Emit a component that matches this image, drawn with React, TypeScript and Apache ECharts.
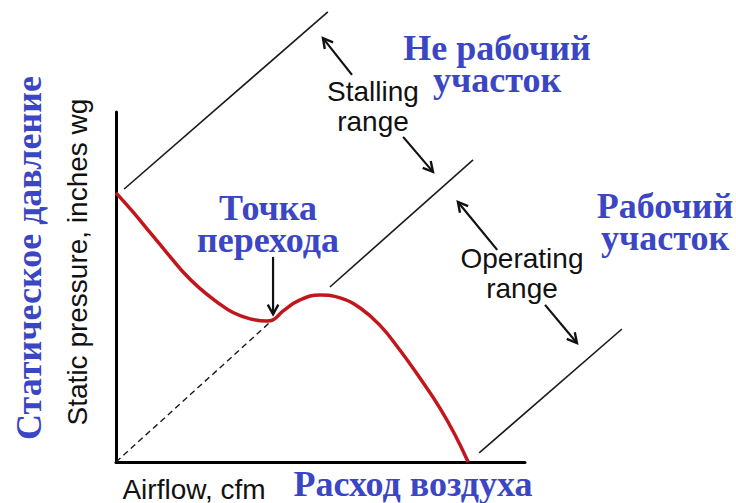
import React, { useEffect, useRef } from "react";
import * as echarts from "echarts";

// Axis ranges (arbitrary units, no tick labels in the original)
const AIRFLOW_MIN = 0;
const AIRFLOW_MAX = 100;
const PRESSURE_MIN = 0;
const PRESSURE_MAX = 100;

// Fan curve: airflow vs static pressure
const curveAirflow = [0, 4.2, 8.3, 12.5, 16.4, 20.5, 24.7, 28.6, 32.8, 36.9, 38.4, 40.8, 45.0, 49.9, 54.8, 59.7, 64.5, 69.4, 74.3, 79.2, 82.9, 86.1];
const curvePressure = [76.9, 71.4, 65.6, 59.7, 54.3, 49.6, 45.7, 42.7, 40.9, 40.3, 40.6, 43.1, 46.3, 47.7, 46.9, 44.0, 39.1, 32.0, 24.0, 15.4, 7.7, 0];

// Dashed system line from origin to transition point
const dashedAirflow = [0, 38.3];
const dashedPressure = [0, 40.6];

// Range boundary lines: [startAirflow, startPressure, endAirflow, endPressure]
const boundaries = [
  [2.0, 78.0, 51.8, 128.6],
  [52.3, 50.0, 87.3, 86.3],
  [88.8, 2.6, 123.7, 38.0],
];

// Annotation arrows: [tailAirflow, tailPressure, tipAirflow, tipPressure]
const arrows = [
  [57.7, 110.6, 50.6, 121.1],
  [70.2, 92.9, 77.5, 82.9],
  [93.2, 60.6, 83.6, 74.3],
  [104.9, 44.9, 112.7, 34.0],
  [38.4, 58.6, 38.4, 42.2],
];

const BLUE = "#3a46c4";
const SANS = '"Liberation Sans", Arial, sans-serif';
const SERIF = '"Liberation Serif", "Times New Roman", serif';

export default function App() {
  const ref = useRef<HTMLDivElement>(null);

  useEffect(() => {
    if (!ref.current) return;
    const chart = echarts.init(ref.current, null, { renderer: "svg" });

    const blueText = (text: string, x: number, y: number, rotation = 0) => ({
      type: "text",
      x,
      y,
      rotation,
      style: {
        text,
        font: `bold 36px ${SERIF}`,
        fill: BLUE,
        align: "center",
        verticalAlign: "middle",
        lineHeight: 32,
      },
    });
    const blackText = (text: string, x: number, y: number, rotation = 0) => ({
      type: "text",
      x,
      y,
      rotation,
      style: {
        text,
        font: `28px ${SANS}`,
        fill: "#111",
        align: "center",
        verticalAlign: "middle",
        lineHeight: 30,
      },
    });

    chart.setOption({
      animation: false,
      backgroundColor: "#fff",
      grid: { left: 116, top: 112, width: 409, height: 350 },
      xAxis: {
        type: "value",
        min: AIRFLOW_MIN,
        max: AIRFLOW_MAX,
        axisLine: { show: true, onZero: false, lineStyle: { color: "#000", width: 3 } },
        axisTick: { show: false },
        axisLabel: { show: false },
        splitLine: { show: false },
      },
      yAxis: {
        type: "value",
        min: PRESSURE_MIN,
        max: PRESSURE_MAX,
        axisLine: { show: true, onZero: false, lineStyle: { color: "#000", width: 3 } },
        axisTick: { show: false },
        axisLabel: { show: false },
        splitLine: { show: false },
      },
      series: [
        {
          type: "line",
          data: dashedAirflow.map((x, i) => [x, dashedPressure[i]]),
          symbol: "none",
          silent: true,
          lineStyle: { color: "#1a1a1a", width: 1.4, type: [6, 4] },
          z: 2,
        },
        {
          type: "custom",
          clip: false,
          silent: true,
          data: boundaries,
          z: 2,
          renderItem: (_params: any, api: any) => {
            const p1 = api.coord([api.value(0), api.value(1)]);
            const p2 = api.coord([api.value(2), api.value(3)]);
            return {
              type: "line",
              shape: { x1: p1[0], y1: p1[1], x2: p2[0], y2: p2[1] },
              style: { stroke: "#1a1a1a", lineWidth: 1.6 },
            };
          },
        },
        {
          type: "line",
          data: curveAirflow.map((x, i) => [x, curvePressure[i]]),
          smooth: 0.45,
          symbol: "none",
          clip: false,
          lineStyle: { color: "#c3161c", width: 3.5 },
          z: 3,
        },
        {
          type: "custom",
          clip: false,
          silent: true,
          data: arrows,
          z: 4,
          renderItem: (_params: any, api: any) => {
            const p1 = api.coord([api.value(0), api.value(1)]);
            const p2 = api.coord([api.value(2), api.value(3)]);
            const ang = Math.atan2(p2[1] - p1[1], p2[0] - p1[0]);
            const L = 11;
            const a = 0.5;
            const h1 = [p2[0] - L * Math.cos(ang - a), p2[1] - L * Math.sin(ang - a)];
            const h2 = [p2[0] - L * Math.cos(ang + a), p2[1] - L * Math.sin(ang + a)];
            return {
              type: "group",
              children: [
                {
                  type: "line",
                  shape: { x1: p1[0], y1: p1[1], x2: p2[0], y2: p2[1] },
                  style: { stroke: "#111", lineWidth: 2.2 },
                },
                {
                  type: "polyline",
                  shape: { points: [h1, p2, h2] },
                  style: { stroke: "#111", lineWidth: 2.4, fill: null },
                },
              ],
            };
          },
        },
      ],
      graphic: [
        blackText("Stalling\nrange", 373, 106),
        blackText("Operating\nrange", 522, 273),
        blackText("Airflow, cfm", 194, 489),
        blackText("Static pressure, inches wg", 77, 262, Math.PI / 2),
        blueText("Не рабочий\nучасток", 497, 64),
        blueText("Точка\nперехода", 268, 224),
        blueText("Рабочий\nучасток", 665, 222),
        blueText("Расход воздуха", 413, 484),
        blueText("Статическое давление", 29, 258, Math.PI / 2),
      ],
    });

    return () => chart.dispose();
  }, []);

  return (
    <div
      ref={ref}
      style={{ position: "fixed", left: 0, top: 0, width: 736, height: 503, background: "#fff" }}
    />
  );
}
